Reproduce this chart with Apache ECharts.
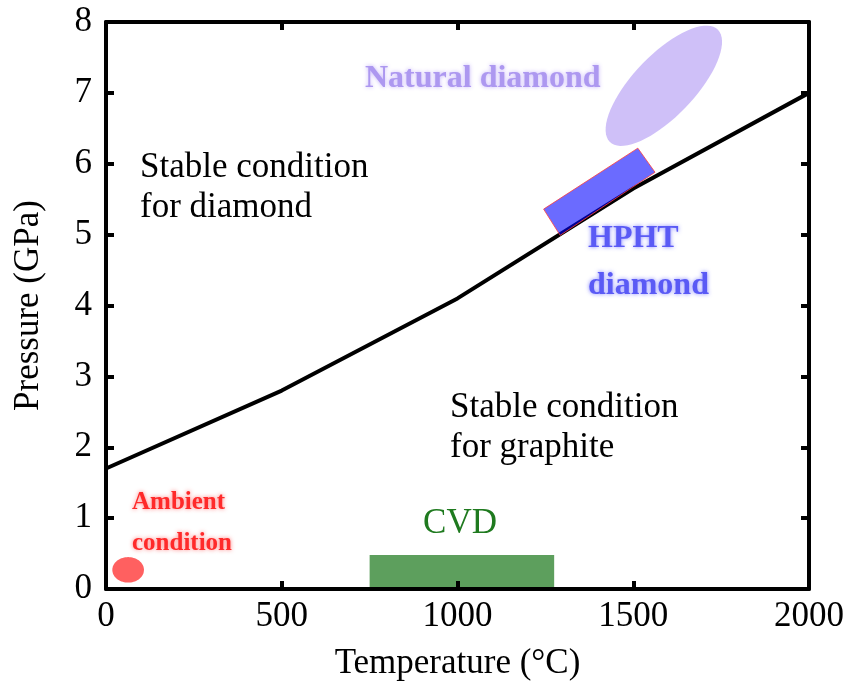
<!DOCTYPE html>
<html>
<head>
<meta charset="utf-8">
<script src="https://cdn.jsdelivr.net/npm/echarts@6/dist/echarts.min.js"></script>
<style>
html,body{margin:0;padding:0;background:#fff;}
#chart{width:849px;height:686px;}
</style>
</head>
<body>
<div id="chart"></div>
<script>
// Phase boundary (graphite / diamond equilibrium)
const boundaryT = [0, 500, 1000, 1500, 2000];
const boundaryP = [1.7, 2.8, 4.1, 5.65, 7.0];

// Regions (data units: temperature °C, pressure GPa)
const cvdT = [750, 1275];
const cvdP = [0, 0.48];
const hphtCorners = [[1245, 5.36], [1513, 6.22], [1562, 5.88], [1292, 4.99]];
const naturalCenter = [1587, 7.10];
const naturalAxisU = [154, 0.79];
const naturalAxisV = [-61, 0.31];
const ambientCenter = [63, 0.27];
const ambientRadius = [45, 0.18];

const xTicks = [0, 500, 1000, 1500, 2000];
const yTicks = [0, 1, 2, 3, 4, 5, 6, 7, 8];

const FONT = 'Liberation Serif';

function ellipsePoints(api, c, u, v) {
  const pts = [];
  for (let i = 0; i < 72; i++) {
    const t = i / 72 * Math.PI * 2;
    pts.push(api.coord([
      c[0] + Math.cos(t) * u[0] + Math.sin(t) * v[0],
      c[1] + Math.cos(t) * u[1] + Math.sin(t) * v[1]
    ]));
  }
  return pts;
}

function txt(x, y, text, size, weight, fill, align, shadow) {
  const style = {x: x, y: y, text: text, textAlign: align || 'left', textVerticalAlign: 'middle',
    font: weight + ' ' + size + 'px "' + FONT + '", serif',
    fontFamily: FONT, fontSize: size, fontWeight: weight, fill: fill};
  if (shadow) { style.textShadowColor = shadow; style.textShadowBlur = 4; }
  return {type: 'text', z: 10, style: style};
}

const chart = echarts.init(document.getElementById('chart'), null, {renderer: 'canvas'});

const axisLine = {show: true, onZero: false, lineStyle: {color: '#000', width: 4}};
const axisTick = {show: true, inside: true, length: 8, lineStyle: {color: '#000', width: 4}};

chart.setOption({
  animation: false,
  backgroundColor: '#fff',
  textStyle: {fontFamily: FONT},
  grid: {left: 106, right: 40, top: 22, bottom: 95, containLabel: false},
  xAxis: [{
    type: 'value', min: 0, max: 2000, interval: 500,
    name: 'Temperature (°C)', nameLocation: 'middle', nameGap: 57,
    nameTextStyle: {fontFamily: FONT, fontSize: 35, color: '#000'},
    axisLine: axisLine, axisTick: axisTick, splitLine: {show: false},
    axisLabel: {fontFamily: FONT, fontSize: 35, color: '#000', margin: 10,
      formatter: v => xTicks.indexOf(v) >= 0 ? String(v) : ''},
    z: 5
  }, {
    type: 'value', position: 'top', min: 0, max: 2000, interval: 500,
    axisLine: axisLine, axisTick: axisTick, splitLine: {show: false},
    axisLabel: {show: false}
  }],
  yAxis: [{
    type: 'value', min: 0, max: 8, interval: 1,
    name: 'Pressure (GPa)', nameLocation: 'middle', nameGap: 60,
    nameTextStyle: {fontFamily: FONT, fontSize: 35, color: '#000'},
    axisLine: axisLine, axisTick: axisTick, splitLine: {show: false},
    axisLabel: {fontFamily: FONT, fontSize: 35, color: '#000', margin: 14,
      formatter: v => yTicks.indexOf(v) >= 0 ? String(v) : ''}
  }, {
    type: 'value', position: 'right', min: 0, max: 8, interval: 1,
    axisLine: axisLine, axisTick: axisTick, splitLine: {show: false},
    axisLabel: {show: false}
  }],
  series: [
    {
      type: 'custom', name: 'CVD', z: 1,
      data: [[cvdT[0], cvdP[0]]],
      renderItem: function (params, api) {
        const p0 = api.coord([cvdT[0], cvdP[1]]);
        const p1 = api.coord([cvdT[1], cvdP[0]]);
        return {type: 'rect', shape: {x: p0[0], y: p0[1], width: p1[0] - p0[0], height: p1[1] - p0[1]},
          style: {fill: 'rgba(30,122,30,0.72)'}};
      }
    },
    {
      type: 'custom', name: 'Natural diamond', z: 1,
      data: [naturalCenter],
      renderItem: function (params, api) {
        return {type: 'polygon', shape: {points: ellipsePoints(api, naturalCenter, naturalAxisU, naturalAxisV)},
          style: {fill: '#cfc0f8'}};
      }
    },
    {
      type: 'custom', name: 'Ambient', z: 1,
      data: [ambientCenter],
      renderItem: function (params, api) {
        return {type: 'polygon', shape: {points: ellipsePoints(api, ambientCenter, [ambientRadius[0], 0], [0, ambientRadius[1]])},
          style: {fill: '#ff6060'}};
      }
    },
    {
      type: 'line', name: 'Boundary', z: 2,
      data: boundaryT.map((t, i) => [t, boundaryP[i]]),
      symbol: 'none', lineStyle: {color: '#000', width: 4}
    },
    {
      type: 'custom', name: 'HPHT', z: 3,
      data: [hphtCorners[0]],
      renderItem: function (params, api) {
        return {type: 'polygon', shape: {points: hphtCorners.map(c => api.coord(c))},
          style: {fill: 'rgba(0,0,255,0.58)', stroke: 'rgba(255,60,60,0.8)', lineWidth: 1}};
      }
    }
  ],
  graphic: [
    txt(365, 79, 'Natural diamond', 32, 'bold', '#ad98f0', 'left', 'rgba(190,170,250,0.9)'),
    txt(140, 168, 'Stable condition', 35, 'normal', '#000'),
    txt(140, 208, 'for diamond', 35, 'normal', '#000'),
    txt(450, 408, 'Stable condition', 35, 'normal', '#000'),
    txt(450, 448, 'for graphite', 35, 'normal', '#000'),
    txt(588, 239, 'HPHT', 32, 'bold', '#5a5af5', 'left', 'rgba(120,120,255,0.9)'),
    txt(588, 286, 'diamond', 32, 'bold', '#5a5af5', 'left', 'rgba(120,120,255,0.9)'),
    txt(132, 503, 'Ambient', 25, 'bold', '#ff2a2a', 'left', 'rgba(255,110,110,0.9)'),
    txt(132, 544, 'condition', 25, 'bold', '#ff2a2a', 'left', 'rgba(255,110,110,0.9)'),
    txt(460, 524, 'CVD', 35, 'normal', '#1f7a1f', 'center')
  ]
});
</script>
</body>
</html>
